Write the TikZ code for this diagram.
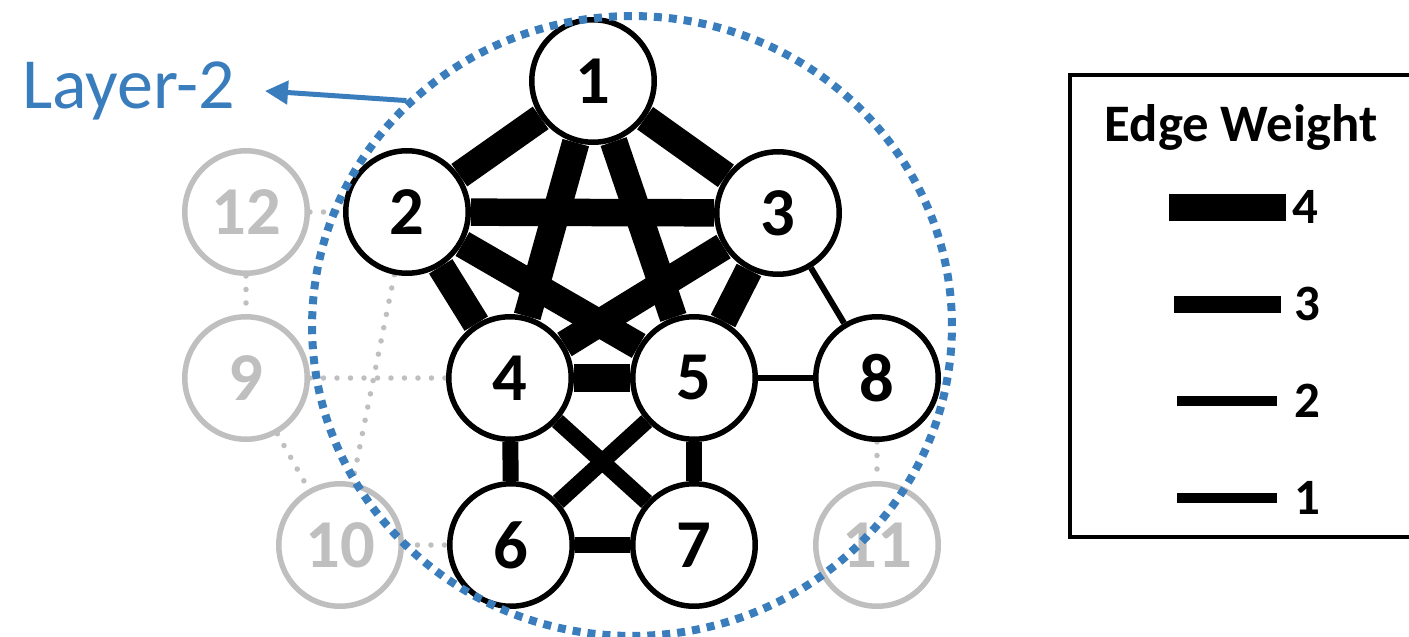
\documentclass[tikz,border=0pt]{standalone}
\usepackage{fontspec}
\setmainfont{Carlito}
\usetikzlibrary{shapes.geometric, arrows.meta, backgrounds}
\definecolor{lyBlue}{HTML}{3A7DBD}
\definecolor{lyGray}{HTML}{BFBFBF}
\tikzset{
  vtx/.style={circle, draw=black, line width=0.11cm, fill=white,
    minimum size=2.45cm, inner sep=0pt, font=\fontsize{39}{41}\selectfont\bfseries},
  vtxGhost/.style={vtx, draw=lyGray, text=lyGray},
  wFour/.style={line width=0.55cm},
  wThree/.style={line width=0.32cm},
  wTwo/.style={line width=0.12cm},
  ghostlink/.style={lyGray, line width=0.11cm, line cap=round, dash pattern=on 0pt off 0.27cm},
  layerring/.style={ellipse, draw=lyBlue, line width=0.16cm, dash pattern=on 0.16cm off 0.14cm,
    minimum width=12.8cm, minimum height=12.4cm, inner sep=0pt},
  layerarrow/.style={-{Triangle[length=0.46cm, width=0.46cm]}, line width=0.1cm, lyBlue},
  legnum/.style={anchor=west, inner sep=0pt, font=\fontsize{29}{31}\selectfont\bfseries}
}
\begin{document}
\begin{tikzpicture}[x=0.02cm, y=-0.02cm]
  \useasboundingbox (0,0) rectangle (1409,636);
  \node[vtx] (n1) at (593,81) {1};
  \node[vtx] (n2) at (407,212) {2};
  \node[vtx] (n3) at (778,213) {3};
  \node[vtx] (n4) at (510,378) {4};
  \node[vtx] (n5) at (694,378) {5};
  \node[vtx] (n8) at (877,378) {8};
  \node[vtx] (n6) at (511,545) {6};
  \node[vtx] (n7) at (694,545) {7};
  \node[vtxGhost] (n12) at (246,212) {12};
  \node[vtxGhost] (n9) at (246,378) {9};
  \node[vtxGhost] (n10) at (340,545) {10};
  \node[vtxGhost] (n11) at (877,545) {11};
  \begin{scope}[on background layer]
    \draw[wFour] (n1) -- (n2);
    \draw[wFour] (n1) -- (n3);
    \draw[wFour] (n1) -- (n4);
    \draw[wFour] (n1) -- (n5);
    \draw[wFour] (n2) -- (n3);
    \draw[wFour] (n2) -- (n4);
    \draw[wFour] (n2) -- (n5);
    \draw[wFour] (n3) -- (n4);
    \draw[wFour] (n3) -- (n5);
    \draw[wFour] (n4) -- (n5);
    \draw[wThree] (n4) -- (n6);
    \draw[wThree] (n4) -- (n7);
    \draw[wThree] (n5) -- (n6);
    \draw[wThree] (n5) -- (n7);
    \draw[wThree] (n6) -- (n7);
    \draw[wTwo] (n3) -- (n8);
    \draw[wTwo] (n5) -- (n8);
    \draw[ghostlink] (n12) -- (n2);
    \draw[ghostlink] (n12) -- (n9);
    \draw[ghostlink] (n9) -- (n4);
    \draw[ghostlink] (n9) -- (n10);
    \draw[ghostlink] (n2) -- (n10);
    \draw[ghostlink] (n10) -- (n6);
    \draw[ghostlink] (n8) -- (n11);
  \end{scope}
  \node[layerring] (ring) at (632,326) {};
  \node[anchor=east, inner sep=0pt, outer xsep=0.6cm, text=lyBlue,
    font=\fontsize{41}{43}\selectfont] (lbl) at (265,91) {Layer-2};
  \draw[layerarrow] (ring.135) -- (lbl.east);
  \draw[line width=0.08cm] (1070,75) rectangle (1420,537);
  \node[anchor=base, font=\fontsize{30}{32}\selectfont\bfseries] (legtitle) at (1241,141) {Edge Weight};
  \node[legnum] (k4) at (1292,207) {4};
  \node[legnum] (k3) at (1294,304) {3};
  \node[legnum] (k2) at (1294,401) {2};
  \node[legnum] (k1) at (1294,498) {1};
  \draw[line width=0.54cm] ([xshift=-0.12cm]k4.west) -- ++(-117,0);
  \draw[line width=0.34cm] ([xshift=-0.26cm]k3.west) -- ++(-107,0);
  \draw[line width=0.2cm] ([xshift=-0.34cm]k2.west) -- ++(-100,0);
  \draw[line width=0.2cm] ([xshift=-0.34cm]k1.west) -- ++(-100,0);
\end{tikzpicture}
\end{document}
